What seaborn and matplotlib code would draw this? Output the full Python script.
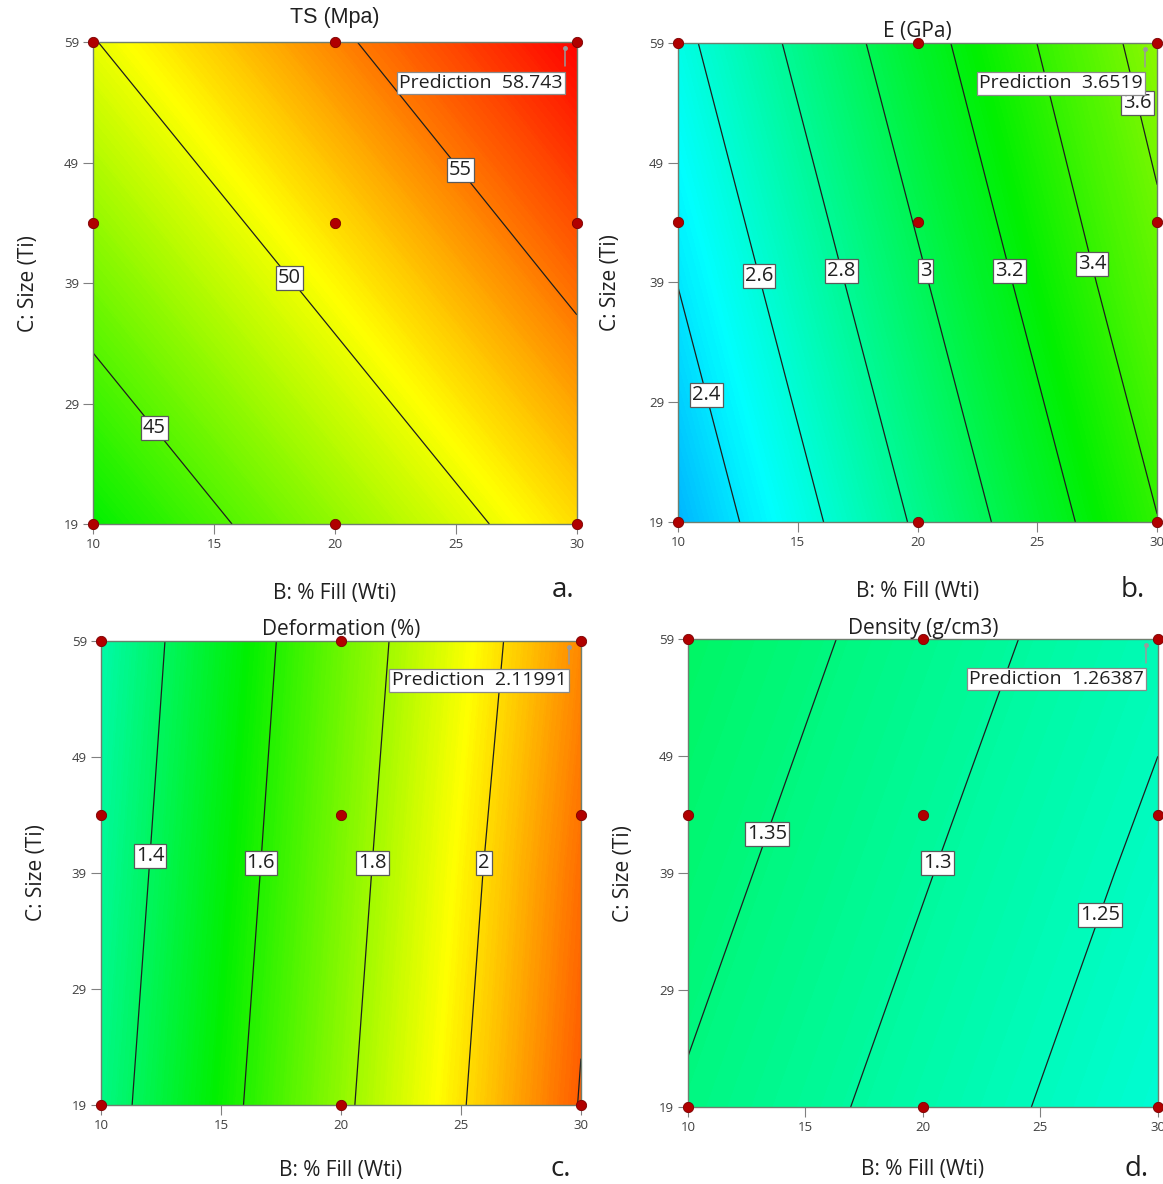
import numpy as np
import pandas as pd
import matplotlib
matplotlib.use('Agg')
import matplotlib.pyplot as plt
from matplotlib.colors import LinearSegmentedColormap, Normalize
import seaborn as sns

sns.set_theme(style='white')
plt.rcParams['font.family'] = ['Open Sans', 'DejaVu Sans']

# --- data ---
fill_levels = [10, 20, 30]          # B: % Fill (Wti)
size_levels = [19, 39, 59]          # C: Size (Ti)

# response at (size row, fill col)
ts_grid = [[42.3, 47.0, 51.7],
           [46.1, 50.8, 55.5],
           [49.9, 54.6, 58.9]]
e_grid = [[2.253, 2.824, 3.395],
          [2.403, 2.974, 3.545],
          [2.552, 3.123, 3.680]]
def_grid = [[1.344, 1.775, 2.206],
            [1.314, 1.745, 2.176],
            [1.285, 1.716, 2.135]]
dens_grid = [[1.345, 1.280, 1.215],
             [1.368, 1.303, 1.238],
             [1.391, 1.326, 1.262]]

ts_levels = [45, 50, 55]
e_levels = [2.4, 2.6, 2.8, 3.0, 3.2, 3.4, 3.6]
def_levels = [1.4, 1.6, 1.8, 2.0, 2.2]
dens_levels = [1.25, 1.3, 1.35]

design_fill = [10, 10, 10, 20, 20, 20, 30, 30, 30]
design_size = [19, 44, 59, 19, 44, 59, 19, 44, 59]

titles = ['TS (Mpa)', 'E (GPa)', 'Deformation (%)', 'Density (g/cm3)']
predictions = ['58.743', '3.6519', '2.11991', '1.26387']
letters = ['a.', 'b.', 'c.', 'd.']

# --- style / layout ---
cmap = LinearSegmentedColormap.from_list(
    'de', ['#0000ff', '#00ffff', '#00f000', '#ffff00', '#ff0000'])
color_ranges = [(25.6, 59.0), (1.70, 4.81), (0.75, 2.35), (0.736, 2.365)]
axes_rects = [[0.080, 0.5574, 0.416, 0.407],
              [0.583, 0.559, 0.412, 0.405],
              [0.0868, 0.0667, 0.4127, 0.392],
              [0.5916, 0.065, 0.404, 0.395]]
label_pos = [
    [(12.85, 27.45), (18.49, 40.0), (25.54, 48.97)],
    [(11.24, 29.6), (13.5, 39.6), (16.95, 40.0), (20.46, 40.0),
     (23.99, 40.0), (27.48, 40.6), (29.25, 54.0)],
    [(12.02, 40.47), (16.61, 39.9), (21.27, 39.9), (25.92, 39.9)],
    [(13.14, 42.5), (20.39, 40.0), (27.31, 35.6)],
]
letter_xy = [(0.484, 0.490), (0.974, 0.490), (0.482, 0.001), (0.977, 0.001)]
title_fonts = [['Liberation Sans', 'DejaVu Sans'], None, None, None]
xlabel_pads = [23, 23, 20, 18]

grids = [ts_grid, e_grid, def_grid, dens_grid]
levels_all = [ts_levels, e_levels, def_levels, dens_levels]

fig = plt.figure(figsize=(11.63, 11.84), dpi=100)
X, Y = np.meshgrid(fill_levels, size_levels)
pts = pd.DataFrame({'fill': design_fill, 'size': design_size})

for i in range(4):
    ax = fig.add_axes(axes_rects[i])
    Z = np.array(grids[i])
    vmin, vmax = color_ranges[i]
    norm = Normalize(vmin=vmin, vmax=vmax)
    ax.contourf(X, Y, Z, levels=np.linspace(Z.min(), Z.max(), 240),
                cmap=cmap, norm=norm, antialiased=False)
    cs = ax.contour(X, Y, Z, levels=levels_all[i], colors='#1e1e1e',
                    linewidths=0.9)
    texts = ax.clabel(cs, levels_all[i], inline=False, fontsize=14.5,
                      fmt=lambda v: f'{v:g}', manual=label_pos[i],
                      colors='#202020')
    for t in texts:
        t.set_rotation(0)
        t.set_bbox(dict(boxstyle='square,pad=0.1', fc='white',
                        ec='#5a5a5a', lw=0.9))
        t.set_zorder(4)

    # prediction flag
    fx = 29.5
    ax.plot([fx, fx], [58.5, 57.0], color='#9a9a9a', lw=1.1, zorder=5)
    ax.plot([fx], [58.5], marker='o', ms=2.5, color='#9a9a9a', zorder=5)
    ax.text(fx - 0.1, 55.6, f'Prediction  {predictions[i]}',
            ha='right', va='center', fontsize=14, color='#202020',
            zorder=6, bbox=dict(boxstyle='square,pad=0.12', fc='white',
                                ec='#8a8a8a', lw=0.9))

    sns.scatterplot(data=pts, x='fill', y='size', ax=ax, s=55,
                    color='#b00000', edgecolor='#7a0000', linewidth=0.6,
                    zorder=7, clip_on=False, legend=False)

    ax.set_xlim(10, 30)
    ax.set_ylim(19, 59)
    ax.set_xticks([10, 15, 20, 25, 30])
    ax.set_yticks([19, 29, 39, 49, 59])
    ax.tick_params(axis='both', direction='out', length=7, width=0.8,
                   color='#808080', labelsize=9.5, labelcolor='#404040',
                   bottom=True, left=True, pad=3)
    for sp in ax.spines.values():
        sp.set_color('#6f7f6f')
        sp.set_linewidth(1.0)
    if title_fonts[i]:
        ax.set_title(titles[i], fontsize=15.5, color='#202020', pad=14,
                     family=title_fonts[i])
    else:
        ax.set_title(titles[i], fontsize=15, color='#202020', pad=4)
    ax.set_xlabel('B: % Fill (Wti)', fontsize=15, color='#202020',
                  labelpad=xlabel_pads[i])
    ax.set_ylabel('C: Size (Ti)', fontsize=15, color='#202020',
                  labelpad=18 if i != 1 else 20)
    fig.text(*letter_xy[i], letters[i], fontsize=20, color='#202020',
             ha='center', va='bottom')

fig.savefig('out.png', dpi=100)
